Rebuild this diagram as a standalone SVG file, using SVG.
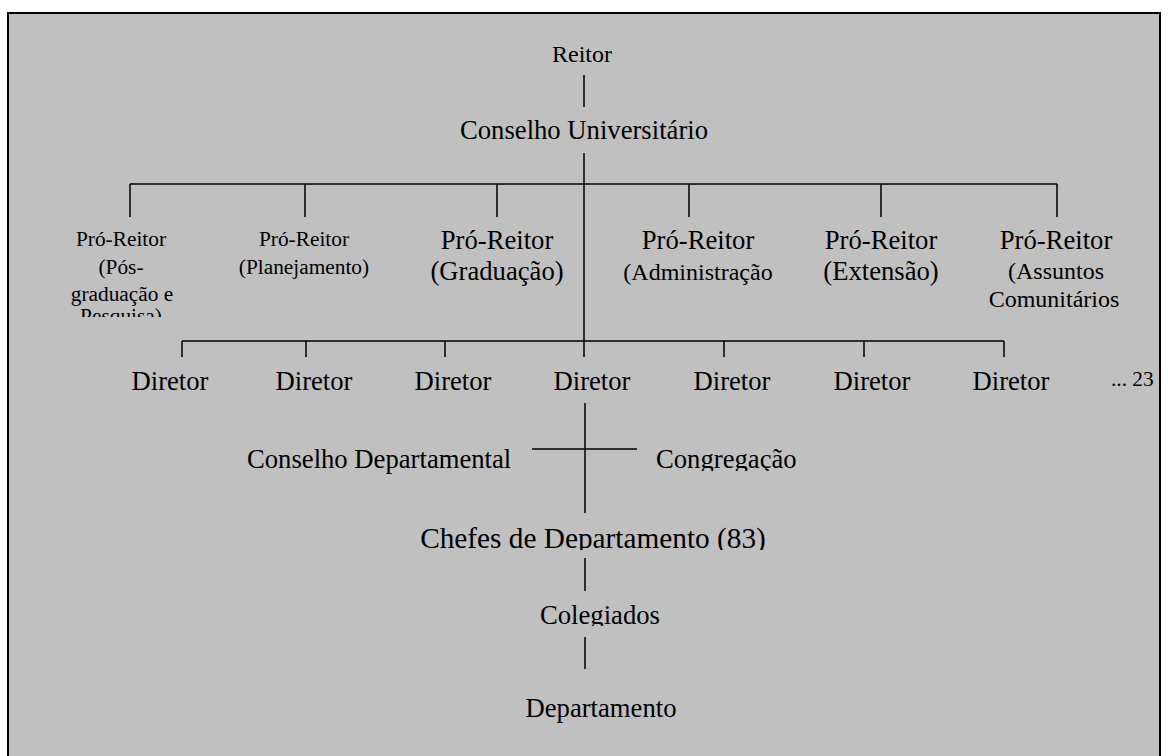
<svg xmlns="http://www.w3.org/2000/svg" width="1168" height="756" viewBox="0 0 1168 756">
<style>
text{font-family:"Liberation Serif","Times New Roman",serif;fill:#000;text-anchor:middle}
.l{font-size:26.67px}
.m{font-size:24px}
.s{font-size:21.33px}
.c line{stroke:#000;stroke-width:1.5;fill:none}
</style>
<defs>
<clipPath id="clipPes"><rect x="40" y="306" width="180" height="11"/></clipPath>
<clipPath id="clipCong"><rect x="640" y="430" width="200" height="41"/></clipPath>
<clipPath id="clipChef"><rect x="400" y="510" width="400" height="40"/></clipPath>
<clipPath id="clipCol"><rect x="520" y="595" width="160" height="31"/></clipPath>
</defs>
<rect id="frame" x="8" y="13" width="1152" height="770" fill="#c0c0c0" stroke="#000" stroke-width="2"/>
<g class="c" id="connectors">
<line x1="584" y1="75" x2="584" y2="107"/>
<line x1="584" y1="153" x2="584" y2="357"/>
<line x1="130" y1="184" x2="1057" y2="184"/>
<line x1="130" y1="184" x2="130" y2="217"/>
<line x1="305" y1="184" x2="305" y2="217"/>
<line x1="497" y1="184" x2="497" y2="217"/>
<line x1="689" y1="184" x2="689" y2="217"/>
<line x1="881" y1="184" x2="881" y2="217"/>
<line x1="1057" y1="184" x2="1057" y2="217"/>
<line x1="182" y1="341" x2="1004" y2="341"/>
<line x1="182" y1="341" x2="182" y2="357"/>
<line x1="306" y1="341" x2="306" y2="357"/>
<line x1="445" y1="341" x2="445" y2="357"/>
<line x1="724" y1="341" x2="724" y2="357"/>
<line x1="864" y1="341" x2="864" y2="357"/>
<line x1="1004" y1="341" x2="1004" y2="357"/>
<line x1="585" y1="403" x2="585" y2="513"/>
<line x1="532" y1="449" x2="637" y2="449"/>
<line x1="585" y1="558" x2="585" y2="591"/>
<line x1="585" y1="637" x2="585" y2="669"/>
</g>
<g id="reitor"><text class="m" x="582" y="62">Reitor</text></g>
<g id="conselho-universitario"><text class="l" x="584" y="139">Conselho Universitário</text></g>
<g id="pr-pos">
<text class="s" x="121" y="246">Pró-Reitor</text>
<text class="s" x="121" y="274">(Pós-</text>
<text class="s" x="122" y="301">graduação e</text>
<text class="s" x="121" y="323" clip-path="url(#clipPes)">Pesquisa)</text>
</g>
<g id="pr-planejamento">
<text class="s" x="304" y="246">Pró-Reitor</text>
<text class="s" x="304" y="274">(Planejamento)</text>
</g>
<g id="pr-graduacao">
<text class="l" x="497" y="249">Pró-Reitor</text>
<text class="l" x="497" y="280">(Graduação)</text>
</g>
<g id="pr-administracao">
<text class="l" x="698" y="249">Pró-Reitor</text>
<text class="m" x="698" y="280">(Administração</text>
</g>
<g id="pr-extensao">
<text class="l" x="881" y="249">Pró-Reitor</text>
<text class="l" x="881" y="280">(Extensão)</text>
</g>
<g id="pr-assuntos">
<text class="l" x="1056" y="249">Pró-Reitor</text>
<text class="m" x="1056" y="279">(Assuntos</text>
<text class="m" x="1054" y="307">Comunitários</text>
</g>
<g id="diretor-1"><text class="l" x="170" y="390">Diretor</text></g>
<g id="diretor-2"><text class="l" x="314" y="390">Diretor</text></g>
<g id="diretor-3"><text class="l" x="453" y="390">Diretor</text></g>
<g id="diretor-4"><text class="l" x="592" y="390">Diretor</text></g>
<g id="diretor-5"><text class="l" x="732" y="390">Diretor</text></g>
<g id="diretor-6"><text class="l" x="872" y="390">Diretor</text></g>
<g id="diretor-7"><text class="l" x="1011" y="390">Diretor</text></g>
<g id="more"><text class="s" x="1111" y="386" style="text-anchor:start">... 23</text></g>
<g id="conselho-departamental"><text class="l" x="247" y="468" style="text-anchor:start">Conselho Departamental</text></g>
<g id="congregacao"><text class="l" x="656" y="468" style="text-anchor:start" clip-path="url(#clipCong)">Congregação</text></g>
<g id="chefes"><text x="593" y="548" style="font-size:29.3px" clip-path="url(#clipChef)">Chefes de Departamento (83)</text></g>
<g id="colegiados"><text class="l" x="600" y="624" clip-path="url(#clipCol)">Colegiados</text></g>
<g id="departamento"><text class="l" x="601" y="717">Departamento</text></g>
</svg>
